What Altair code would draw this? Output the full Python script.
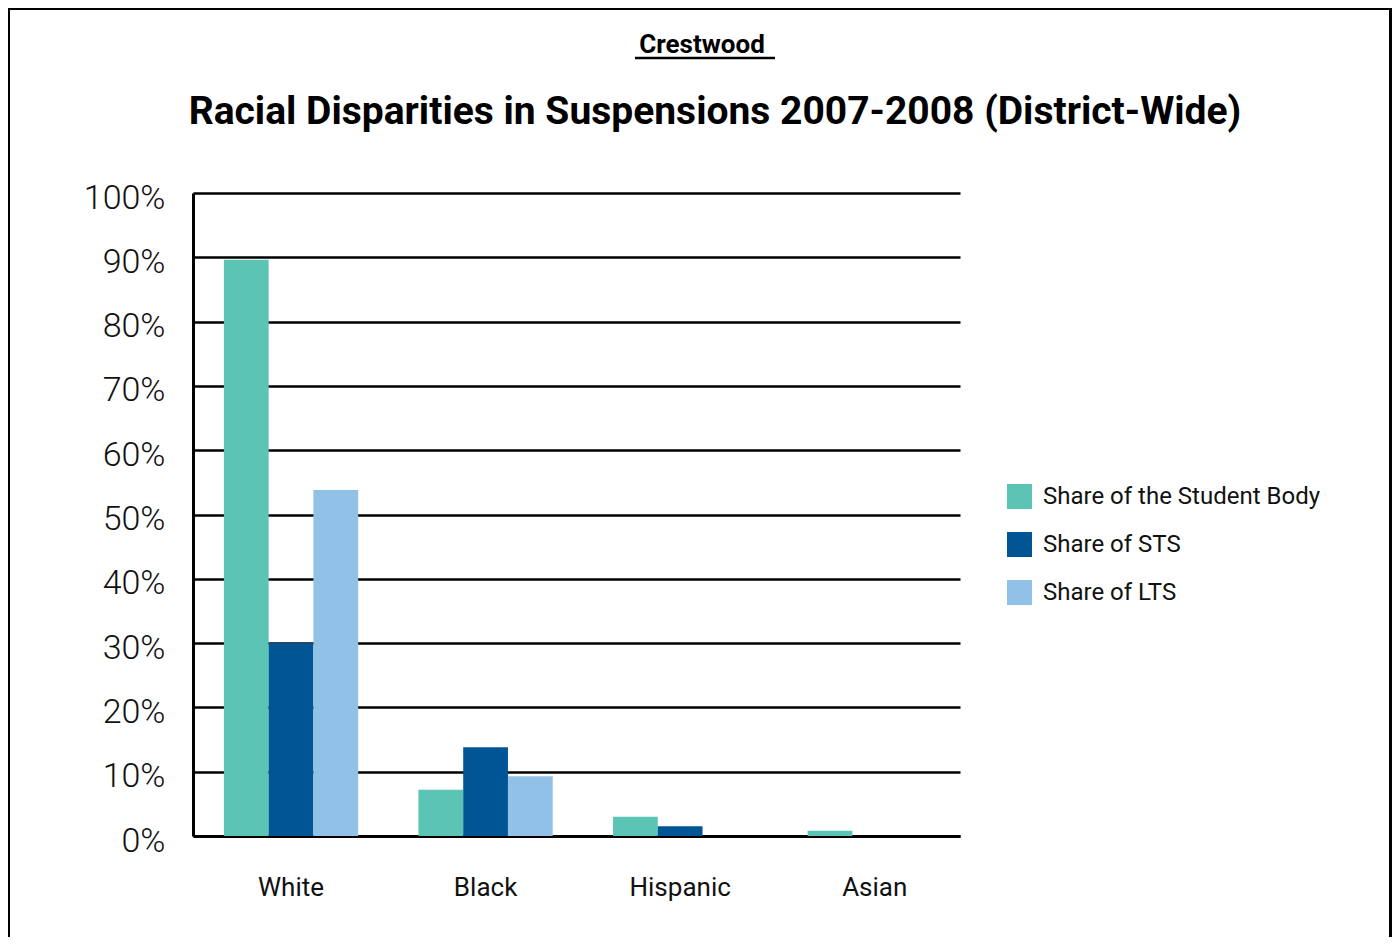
import altair as alt
import pandas as pd

categories = ["White", "Black", "Hispanic", "Asian"]
series_names = ["Share of the Student Body", "Share of STS", "Share of LTS"]
student_body = [89.6, 7.2, 3.0, 0.8]
sts = [30.0, 13.8, 1.5, 0.0]
lts = [53.8, 9.3, 0.0, 0.0]
colors = ["#5BC4B4", "#005595", "#92C1E8"]

title_top = "Crestwood"
title_main = "Racial Disparities in Suspensions 2007-2008 (District-Wide)"

rows = []
for name, vals in zip(series_names, [student_body, sts, lts]):
    for c, v in zip(categories, vals):
        rows.append({"Group": c, "Series": name, "Value": v / 100.0})
df = pd.DataFrame(rows)

FONT = "Roboto"

bars = alt.Chart(df).mark_bar(strokeWidth=0).encode(
    x=alt.X("Group:N", sort=categories,
            scale=alt.Scale(paddingInner=0.31, paddingOuter=0.126, align=0.63),
            axis=alt.Axis(title=None, labelAngle=0, ticks=False, domain=True,
                          domainColor="black", domainWidth=3, labelPadding=38,
                          labelFontSize=26, labelFont=FONT, labelColor="#111",
                          grid=False)),
    xOffset=alt.XOffset("Series:N", sort=series_names),
    y=alt.Y("Value:Q", scale=alt.Scale(domain=[0, 1], nice=False),
            axis=alt.Axis(title=None, format=".0%", values=[i / 10 for i in range(11)],
                          grid=True, gridColor="black", gridWidth=2.5,
                          domain=True, domainColor="black", domainWidth=3,
                          ticks=False, labelPadding=28, labelFontSize=34,
                          labelFontWeight=300, labelOffset=5,
                          labelFont=FONT, labelColor="#111")),
    color=alt.Color("Series:N", sort=series_names,
                    scale=alt.Scale(domain=series_names, range=colors),
                    legend=alt.Legend(title=None, orient="none", legendX=814, legendY=291,
                                      symbolType="square", symbolSize=625,
                                      symbolStrokeWidth=0, labelFontSize=24,
                                      labelFont=FONT, labelColor="#111",
                                      labelOffset=11, rowPadding=23, labelLimit=400)),
)

one = alt.Data(values=[{"k": 1}])

frame = alt.Chart(one).mark_rect(fill=None, fillOpacity=0, stroke="black", strokeWidth=3).encode(
    x=alt.value(-184.5), x2=alt.value(1197.5), y=alt.value(-184.5), y2=alt.value(800)
)

t1 = alt.Chart(one).mark_text(fontSize=26, fontWeight="bold", font=FONT, color="black",
                              align="center", baseline="alphabetic").encode(
    x=alt.value(509), y=alt.value(-140), text=alt.value(title_top)
)
underline = alt.Chart(one).mark_rule(color="black", strokeWidth=2.5).encode(
    x=alt.value(442), x2=alt.value(582), y=alt.value(-135)
)
t2 = alt.Chart(one).mark_text(fontSize=39, fontWeight="bold", font=FONT, color="black",
                              align="center", baseline="alphabetic").encode(
    x=alt.value(522), y=alt.value(-69), text=alt.value(title_main)
)

chart = alt.layer(frame, bars, t1, underline, t2).properties(
    width=767, height=643,
    autosize=alt.AutoSizeParams(type="none"),
    padding={"left": 185, "top": 185, "right": 432, "bottom": 101},
    background="white",
).configure_view(stroke=None)

chart.save("out.html", embed_options={"renderer": "svg", "actions": False})
